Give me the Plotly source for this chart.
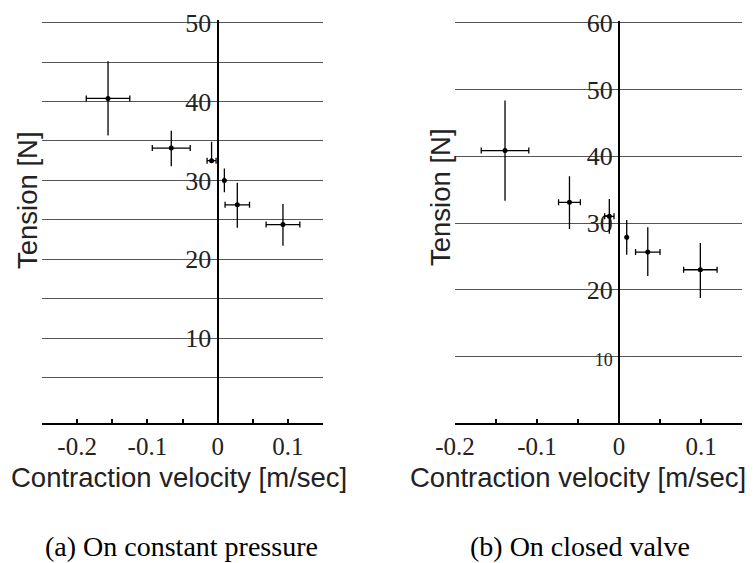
import plotly.graph_objects as go

# ---------------- data ----------------
# (a) On constant pressure
a_vel = [-0.156, -0.066, -0.0086, 0.0096, 0.028, 0.093]
a_vel_err = [0.031, 0.027, 0.0064, 0.0, 0.0174, 0.024]
a_ten = [40.4, 34.1, 32.5, 30.0, 26.9, 24.4]
a_ten_err_plus = [4.7, 2.2, 2.4, 1.5, 2.8, 2.6]
a_ten_err_minus = [4.7, 2.3, 0.3, 1.5, 2.9, 2.7]

# (b) On closed valve
b_vel = [-0.139, -0.0604, -0.0118, 0.0094, 0.0351, 0.0992]
b_vel_err = [0.029, 0.0133, 0.0057, 0.0, 0.0149, 0.0204]
b_ten = [40.85, 33.1, 31.0, 27.85, 25.65, 23.0]
b_ten_err_plus = [7.5, 3.9, 2.6, 2.6, 3.7, 4.0]
b_ten_err_minus = [7.5, 4.0, 2.6, 2.6, 3.6, 4.25]

a_grid = [5, 10, 15, 20, 25, 30, 35, 40, 45, 50]
a_grid_labels = ["", "10", "", "20", "", "30", "", "40", "", "50"]
b_grid = [10, 20, 30, 40, 50, 60]
b_grid_labels = ['<span style="font-size:18px">10</span>', "20", "30", "40", "50", "60"]
x_ticks_a = [-0.25, -0.2, -0.15, -0.1, -0.05, 0, 0.05, 0.1, 0.15]
x_labels_a = ["", "-0.2", "", "-0.1", "", "0", "", "0.1", ""]
x_ticks_b = [-0.2, -0.15, -0.1, -0.05, 0, 0.05, 0.1, 0.15]
x_labels_b = ["-0.2", "", "-0.1", "", "0", "", "0.1", ""]

x_title = "Contraction velocity [m/sec]"
y_title = "Tension [N]"
cap_a = "(a) On constant pressure"
cap_b = "(b) On closed valve"

# ---------------- layout geometry ----------------
W, H = 756, 563
xr_a = [-0.25, 0.15]
xr_b = [-0.2, 0.15]
yr_a = [-0.8, 50.3]
yr_b = [0, 60.3]
dom_xa = [42 / W, 323 / W]
dom_xb = [455 / W, 742 / W]
dom_ya = [1 - 423.3 / H, 1 - 20.3 / H]
dom_yb = [1 - 423.3 / H, 1 - 20.7 / H]


def zero_pos(dom, xr):
    return dom[0] + (0 - xr[0]) / (xr[1] - xr[0]) * (dom[1] - dom[0])


serif = "Liberation Serif"
sans = "Liberation Sans, Arial, sans-serif"
txt = "#222"

fig = go.Figure()

fig.add_trace(go.Scatter(
    x=a_vel, y=a_ten, mode="markers", xaxis="x", yaxis="y",
    marker=dict(color="black", size=5),
    error_x=dict(type="data", array=a_vel_err, color="black", thickness=1.3, width=3),
    error_y=dict(type="data", array=a_ten_err_plus, arrayminus=a_ten_err_minus,
                 symmetric=False, color="black", thickness=1.3, width=0),
    showlegend=False, hoverinfo="skip", cliponaxis=False))

fig.add_trace(go.Scatter(
    x=b_vel, y=b_ten, mode="markers", xaxis="x2", yaxis="y2",
    marker=dict(color="black", size=5),
    error_x=dict(type="data", array=b_vel_err, color="black", thickness=1.3, width=3),
    error_y=dict(type="data", array=b_ten_err_plus, arrayminus=b_ten_err_minus,
                 symmetric=False, color="black", thickness=1.3, width=0),
    showlegend=False, hoverinfo="skip", cliponaxis=False))

xaxis_common = dict(showgrid=False, zeroline=False, showline=True, linecolor="black",
                    linewidth=2, ticks="inside", ticklen=4, tickwidth=1.5,
                    tickcolor="black", tickfont=dict(family=serif, size=25, color=txt),
                    tickmode="array", automargin=False, layer="below traces")
yaxis_common = dict(showgrid=True, gridcolor="#555", gridwidth=1.2, zeroline=False,
                    showline=True, linecolor="black", linewidth=2.2, ticks="",
                    tickfont=dict(family=serif, size=26, color=txt), tickmode="array",
                    anchor="free", automargin=False, layer="below traces")

fig.update_layout(
    width=W, height=H, margin=dict(l=0, r=0, t=0, b=0, autoexpand=False),
    paper_bgcolor="white", plot_bgcolor="white",
    xaxis=dict(domain=dom_xa, range=xr_a, anchor="y", tickvals=x_ticks_a,
               ticktext=x_labels_a, **xaxis_common),
    yaxis=dict(domain=dom_ya, range=yr_a, position=zero_pos(dom_xa, xr_a),
               tickvals=a_grid, ticktext=a_grid_labels, **yaxis_common),
    xaxis2=dict(domain=dom_xb, range=xr_b, anchor="y2", tickvals=x_ticks_b,
                ticktext=x_labels_b, **xaxis_common),
    yaxis2=dict(domain=dom_yb, range=yr_b, position=zero_pos(dom_xb, xr_b),
                tickvals=b_grid, ticktext=b_grid_labels, **yaxis_common),
)

ann_font = dict(family=sans, size=27.5, color=txt)
cap_font = dict(family=serif, size=28, color="black")
fig.add_annotation(text=x_title, x=179 / W, y=1 - 477 / H, xref="paper", yref="paper",
                   showarrow=False, font=ann_font, xanchor="center", yanchor="middle")
fig.add_annotation(text=x_title, x=578 / W, y=1 - 477 / H, xref="paper", yref="paper",
                   showarrow=False, font=ann_font, xanchor="center", yanchor="middle")
fig.add_annotation(text=y_title, x=27 / W, y=1 - 200 / H, xref="paper", yref="paper",
                   showarrow=False, font=ann_font, textangle=-90,
                   xanchor="center", yanchor="middle")
fig.add_annotation(text=y_title, x=440 / W, y=1 - 197 / H, xref="paper", yref="paper",
                   showarrow=False, font=ann_font, textangle=-90,
                   xanchor="center", yanchor="middle")
fig.add_annotation(text=cap_a, x=181 / W, y=1 - 546 / H, xref="paper", yref="paper",
                   showarrow=False, font=cap_font, xanchor="center", yanchor="middle")
fig.add_annotation(text=cap_b, x=580 / W, y=1 - 546 / H, xref="paper", yref="paper",
                   showarrow=False, font=cap_font, xanchor="center", yanchor="middle")

fig.write_html("out.html")
